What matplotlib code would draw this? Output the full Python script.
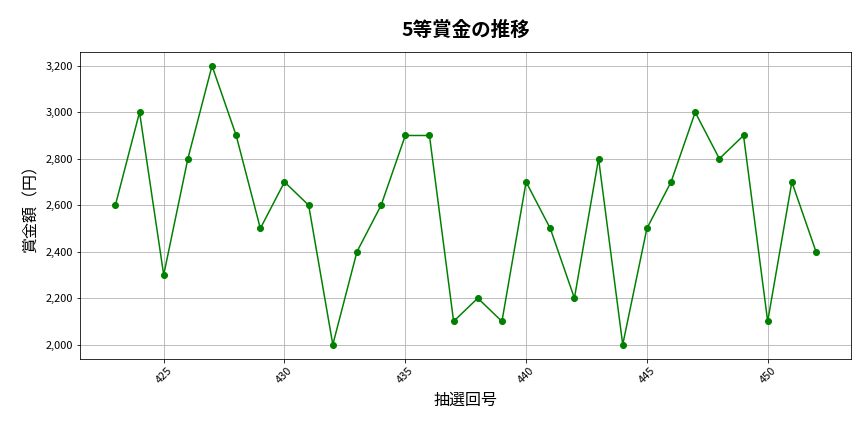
import matplotlib
matplotlib.use("Agg")
import matplotlib.pyplot as plt
from matplotlib.ticker import FuncFormatter

plt.rcParams['font.family'] = ['Noto Sans CJK JP', 'DejaVu Sans']

draws = list(range(423, 453))
prizes = [2600, 3000, 2300, 2800, 3200, 2900, 2500, 2700, 2600, 2000,
          2400, 2600, 2900, 2900, 2100, 2200, 2100, 2700, 2500, 2200,
          2800, 2000, 2500, 2700, 3000, 2800, 2900, 2100, 2700, 2400]

fig, ax = plt.subplots(figsize=(12, 6), dpi=72)
fig.subplots_adjust(left=0.093, right=0.985, top=0.88, bottom=0.17)

ax.plot(draws, prizes, color='green', marker='o', markersize=6, linewidth=1.5)
ax.grid(True, color='#b0b0b0', linewidth=0.8)
ax.set_title('5等賞金の推移', fontsize=19.5, fontweight='bold', pad=16)
ax.set_xlabel('抽選回号', fontsize=16, labelpad=6)
ax.set_ylabel('賞金額（円）', fontsize=16, labelpad=6)
ax.yaxis.set_major_formatter(FuncFormatter(lambda v, p: f'{int(v):,}'))
ax.tick_params(axis='both', labelsize=11)
plt.setp(ax.get_xticklabels(), rotation=45)

fig.savefig('out.png', dpi=72)
